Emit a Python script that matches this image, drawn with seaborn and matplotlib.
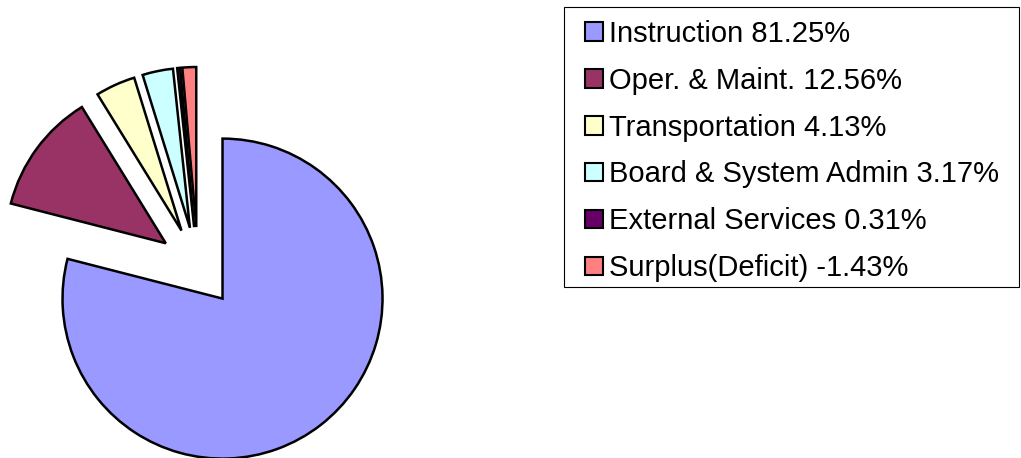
import numpy as np
import pandas as pd
import matplotlib.pyplot as plt
import seaborn as sns
from matplotlib.patches import Rectangle

categories = ['Instruction', 'Oper. & Maint.', 'Transportation',
              'Board & System Admin', 'External Services', 'Surplus(Deficit)']
percents = [81.25, 12.56, 4.13, 3.17, 0.31, -1.43]
colors = ['#9999FF', '#993366', '#FFFFCC', '#CCFFFF', '#660066', '#FF8080']


def main():
    sns.set_theme(style='white')
    plt.rcParams['font.family'] = ['Liberation Sans', 'DejaVu Sans']

    df = pd.DataFrame({'cat': categories, 'pct': percents})
    df['size'] = df.pct.abs()
    df['label'] = [f'{c} {p:.2f}%' for c, p in zip(df.cat, df.pct)]

    fig = plt.figure(figsize=(10.21, 4.58), dpi=100)
    ax = fig.add_axes([0, 0, 1, 1])
    # axes in pixel units, explode is in data units
    wedges, _ = ax.pie(df['size'], colors=colors, startangle=90, counterclock=False,
                       explode=[40] * len(df), radius=160, center=(198, 191),
                       wedgeprops=dict(edgecolor='black', linewidth=1.8))
    ax.set_xlim(0, 1021)
    ax.set_ylim(0, 458)
    ax.set_aspect('equal')
    ax.axis('off')

    # legend frame drawn by hand
    ax.add_patch(Rectangle((564, 458 - 287), 455, 280, facecolor='none',
                           edgecolor='black', linewidth=0.8, clip_on=False))

    leg = fig.legend(wedges, df['label'], loc='upper left',
                     bbox_to_anchor=(585 / 1021, 1 - 20 / 458), borderaxespad=0,
                     fontsize=21, frameon=False, labelcolor='black',
                     handlelength=0.6, handleheight=0.6, handletextpad=0.22,
                     labelspacing=0.645, borderpad=0)
    for h in leg.legend_handles:
        h.set_linewidth(1.5)

    fig.savefig('out.png', dpi=100)


if __name__ == "__main__":
    main()
